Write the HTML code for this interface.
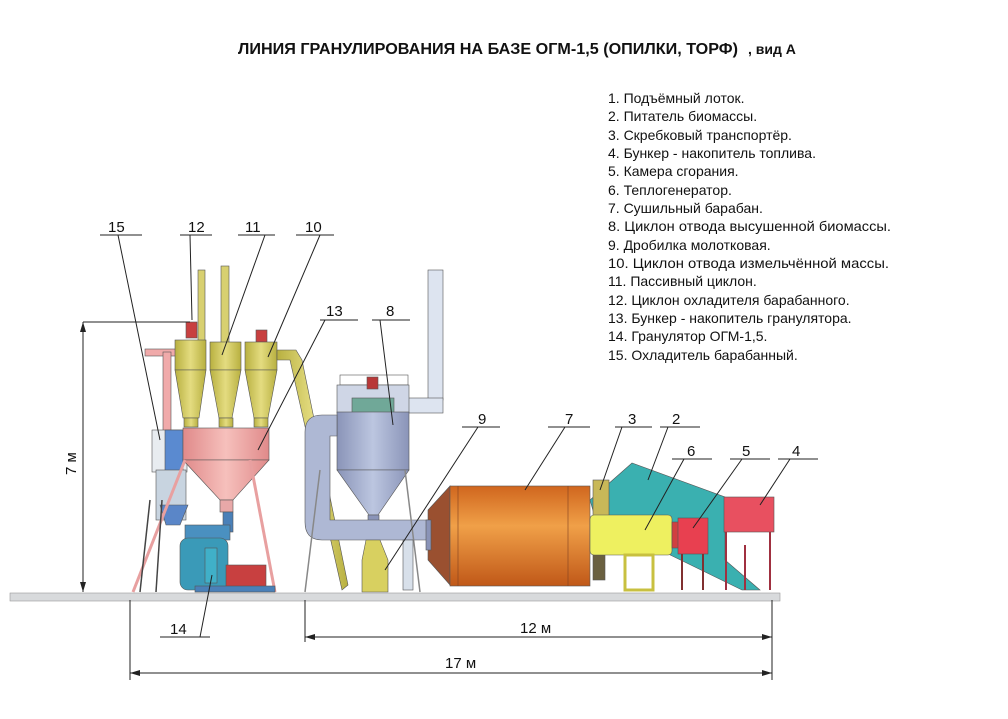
<!DOCTYPE html>
<html><head><meta charset="utf-8"><style>
html,body{margin:0;padding:0;background:#fff;}
svg{display:block;}
text{font-family:"Liberation Sans",sans-serif;fill:#111;}
</style></head><body>
<svg width="1008" height="719" viewBox="0 0 1008 719" xmlns="http://www.w3.org/2000/svg">
<defs>
<linearGradient id="dr" x1="0" y1="0" x2="0" y2="1"><stop offset="0" stop-color="#d0661e"/><stop offset="0.4" stop-color="#f0a048"/><stop offset="1" stop-color="#c05818"/></linearGradient>
<linearGradient id="gy" x1="0" y1="0" x2="1" y2="0"><stop offset="0" stop-color="#8a94b8"/><stop offset="0.5" stop-color="#bcc6e0"/><stop offset="1" stop-color="#8a94b8"/></linearGradient>
<linearGradient id="pk" x1="0" y1="0" x2="1" y2="0"><stop offset="0" stop-color="#e08a8a"/><stop offset="0.5" stop-color="#f6c0bc"/><stop offset="1" stop-color="#e08a8a"/></linearGradient>
<linearGradient id="yl" x1="0" y1="0" x2="1" y2="0"><stop offset="0" stop-color="#b8b040"/><stop offset="0.5" stop-color="#e4dc80"/><stop offset="1" stop-color="#b8b040"/></linearGradient>
</defs>
<text x="238" y="54" font-size="16" font-weight="bold" textLength="500" lengthAdjust="spacingAndGlyphs">ЛИНИЯ ГРАНУЛИРОВАНИЯ НА БАЗЕ ОГМ-1,5 (ОПИЛКИ, ТОРФ)</text>
<text x="748" y="54" font-size="14" font-weight="bold">, вид  А</text>
<g font-size="14">
<text x="608" y="103">1. Подъёмный лоток.</text>
<text x="608" y="121">2. Питатель биомассы.</text>
<text x="608" y="140">3. Скребковый транспортёр.</text>
<text x="608" y="158">4. Бункер - накопитель топлива.</text>
<text x="608" y="176">5. Камера сгорания.</text>
<text x="608" y="195">6. Теплогенератор.</text>
<text x="608" y="213">7. Сушильный барабан.</text>
<text x="608" y="231" textLength="283" lengthAdjust="spacingAndGlyphs">8. Циклон отвода высушенной биомассы.</text>
<text x="608" y="250">9. Дробилка молотковая.</text>
<text x="608" y="268" textLength="281" lengthAdjust="spacingAndGlyphs">10. Циклон отвода измельчённой массы.</text>
<text x="608" y="286">11. Пассивный циклон.</text>
<text x="608" y="305">12. Циклон охладителя барабанного.</text>
<text x="608" y="323">13. Бункер - накопитель гранулятора.</text>
<text x="608" y="341">14. Гранулятор ОГМ-1,5.</text>
<text x="608" y="360">15. Охладитель барабанный.</text>
</g>
<g stroke="#555" stroke-width="0.6">
<rect x="145" y="349" width="32" height="7" fill="#f0aaaa"/>
<rect x="163" y="352" width="8" height="80" fill="#f0aaaa"/>
<rect x="152" y="430" width="35" height="42" fill="#e8ecf0"/>
<rect x="165" y="430" width="18" height="42" fill="#5a8ad0"/>
<rect x="156" y="470" width="30" height="50" fill="#c8d4e0"/>
<polygon points="160,505 188,505 180,525 166,525" fill="#5a86c8"/>
<rect x="198" y="270" width="7" height="72" fill="#d8d070"/>
<rect x="221" y="266" width="8" height="78" fill="#d8d070"/>
<rect x="186" y="322" width="11" height="16" fill="#c84040"/>
<rect x="256" y="330" width="11" height="12" fill="#c84040"/>
<g fill="url(#yl)">
<rect x="175" y="340" width="31" height="30"/><polygon points="175,370 206,370 199,418 183,418"/>
<rect x="210" y="342" width="31" height="28"/><polygon points="210,370 241,370 232,418 219,418"/>
<rect x="245" y="342" width="32" height="28"/><polygon points="245,370 277,370 268,418 254,418"/>
<rect x="184" y="418" width="14" height="9"/><rect x="219" y="418" width="14" height="9"/><rect x="254" y="418" width="14" height="9"/>
<polygon points="277,350 296,350 302,360 348,585 342,590 290,360 277,360"/>
</g>
<rect x="183" y="428" width="86" height="32" fill="url(#pk)"/>
<polygon points="183,460 269,460 233,500 220,500" fill="url(#pk)"/>
<rect x="220" y="500" width="13" height="12" fill="#e8a8a8"/>
<line x1="185" y1="460" x2="133" y2="592" stroke="#e8a0a0" stroke-width="3"/>
<line x1="250" y1="460" x2="275" y2="592" stroke="#e8a0a0" stroke-width="3"/>
<line x1="150" y1="500" x2="140" y2="592" stroke="#444" stroke-width="1.5"/>
<line x1="162" y1="500" x2="156" y2="592" stroke="#444" stroke-width="1.5"/>
<rect x="223" y="512" width="10" height="20" fill="#4a80b8"/>
<rect x="185" y="525" width="45" height="15" fill="#4a90c0"/>
<rect x="180" y="538" width="48" height="52" rx="8" fill="#3a9ab8"/>
<rect x="205" y="548" width="12" height="35" fill="#40b0c8"/>
<rect x="226" y="565" width="40" height="24" fill="#c84040"/>
<rect x="195" y="586" width="80" height="6" fill="#4a80b8"/>
<rect x="428" y="270" width="15" height="130" fill="#dde4f0"/>
<rect x="408" y="398" width="35" height="15" fill="#dde4f0"/>
<rect x="340" y="375" width="68" height="10" fill="none"/>
<rect x="337" y="385" width="72" height="28" fill="#cfd6e6"/>
<rect x="352" y="398" width="42" height="15" fill="#70a898"/>
<rect x="367" y="377" width="11" height="12" fill="#b83838"/>
<rect x="337" y="412" width="72" height="58" fill="url(#gy)"/>
<polygon points="337,470 409,470 378,515 369,515" fill="url(#gy)"/>
<rect x="368" y="515" width="11" height="12" fill="#8a94b8"/>
<path d="M337,415 L322,415 Q305,415 305,432 L305,522 Q305,540 322,540 L430,540 L430,520 L330,520 L330,436 L337,436 Z" fill="#aeb8d4"/>
<line x1="320" y1="470" x2="305" y2="592" stroke="#888" stroke-width="1.5"/>
<line x1="405" y1="470" x2="420" y2="592" stroke="#888" stroke-width="1.5"/>
<rect x="403" y="540" width="10" height="50" fill="#d8e0ea"/>
<polygon points="366,540 380,540 388,560 388,592 362,592 362,560" fill="#d8d060"/>
<polygon points="428,510 450,486 450,585 428,560" fill="#9a5030"/>
<rect x="426" y="520" width="5" height="30" fill="#8a94b8"/>
<rect x="450" y="486" width="140" height="100" fill="url(#dr)"/>
<line x1="458" y1="486" x2="458" y2="586" stroke="#804020"/>
<line x1="568" y1="486" x2="568" y2="586" stroke="#804020"/>
<polygon points="590,500 632,463 725,497 725,560 760,590 742,590 660,550 600,535" fill="#3ab0b0"/>
<rect x="593" y="480" width="16" height="40" fill="#c8b858"/>
<rect x="593" y="550" width="12" height="30" fill="#6a6040"/>
<rect x="590" y="515" width="82" height="40" rx="4" fill="#eef060"/>
<rect x="625" y="555" width="28" height="35" fill="none" stroke="#c8c040" stroke-width="3"/>
<rect x="672" y="522" width="8" height="26" fill="#d04040"/>
<rect x="678" y="518" width="30" height="36" fill="#e84050"/>
<rect x="724" y="497" width="50" height="35" fill="#e85060"/>
<line x1="726" y1="532" x2="726" y2="590" stroke="#a03040" stroke-width="2"/>
<line x1="770" y1="532" x2="770" y2="590" stroke="#a03040" stroke-width="2"/>
<line x1="745" y1="545" x2="745" y2="590" stroke="#a03040" stroke-width="2"/>
<line x1="682" y1="554" x2="682" y2="590" stroke="#803030" stroke-width="2"/>
<line x1="703" y1="554" x2="703" y2="590" stroke="#803030" stroke-width="2"/>
</g>
<rect x="10" y="593" width="770" height="8" fill="#d8dadc" stroke="#999" stroke-width="0.6"/>
<g stroke="#222" stroke-width="1" fill="none">
<path d="M100,235 H142 M118,235 L160,440"/>
<path d="M180,235 H212 M190,235 L192,320 M83,322 H190"/>
<path d="M238,235 H275 M265,235 L222,355"/>
<path d="M296,235 H334 M320,235 L268,357"/>
<path d="M320,320 H358 M325,320 L258,450"/>
<path d="M372,320 H410 M380,320 L393,425"/>
<path d="M462,427 H500 M478,427 L385,570"/>
<path d="M548,427 H590 M565,427 L525,490"/>
<path d="M615,427 H652 M622,427 L600,490"/>
<path d="M660,427 H700 M668,427 L648,480"/>
<path d="M672,459 H712 M684,459 L645,530"/>
<path d="M730,459 H770 M742,459 L693,528"/>
<path d="M778,459 H818 M790,459 L760,505"/>
<path d="M160,637 H210 M200,637 L212,575"/>
<path d="M83,322 V592 M130,600 V680 M305,600 V642 M772,600 V680"/>
<path d="M305,637 H772 M130,673 H772"/>
</g>
<g fill="#222">
<polygon points="83,322 80,332 86,332"/><polygon points="83,592 80,582 86,582"/>
<polygon points="305,637 315,634 315,640"/><polygon points="772,637 762,634 762,640"/>
<polygon points="130,673 140,670 140,676"/><polygon points="772,673 762,670 762,676"/>
</g>
<g font-size="15">
<text x="108" y="232">15</text><text x="188" y="232">12</text><text x="245" y="232">11</text><text x="305" y="232">10</text>
<text x="326" y="316">13</text><text x="386" y="316">8</text><text x="478" y="424">9</text><text x="565" y="424">7</text>
<text x="628" y="424">3</text><text x="672" y="424">2</text><text x="687" y="456">6</text><text x="742" y="456">5</text><text x="792" y="456">4</text>
<text x="170" y="634">14</text>
<text x="520" y="633">12 м</text><text x="445" y="668">17 м</text>
<text x="0" y="0" transform="translate(76,475) rotate(-90)">7 м</text>
</g>
</svg>
</body></html>
